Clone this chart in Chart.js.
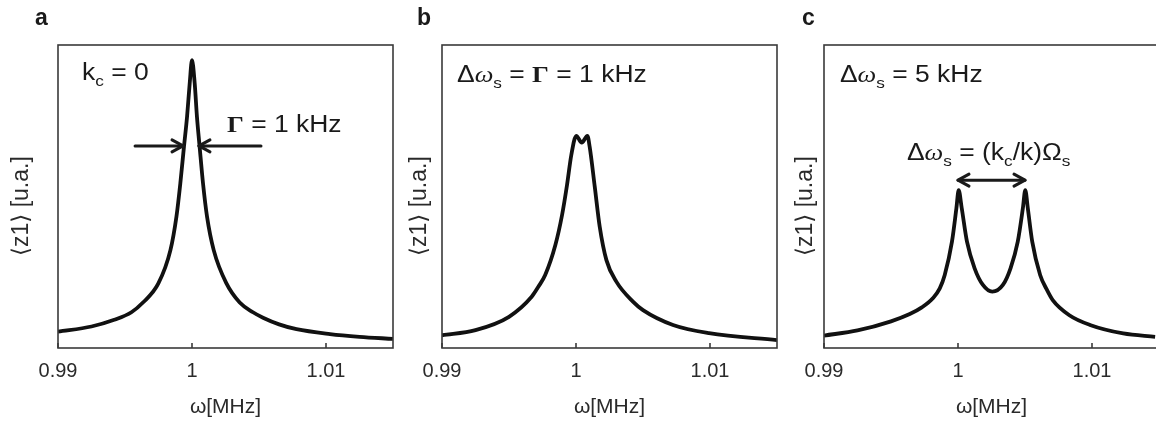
<!DOCTYPE html>
<html>
<head>
<meta charset="utf-8">
<script src="https://cdn.jsdelivr.net/npm/chart.js@4.4.0/dist/chart.umd.min.js"></script>
<style>
  html, body { margin: 0; padding: 0; background: #fff; overflow: hidden; }
  #wrap { position: relative; width: 1156px; height: 421px; overflow: hidden; }
  canvas { position: absolute; top: 0; }
</style>
</head>
<body>
<div id="wrap">
  <canvas id="ca" width="400" height="421" style="left:0"></canvas>
  <canvas id="cb" width="384" height="421" style="left:400px"></canvas>
  <canvas id="cc" width="400" height="421" style="left:784px"></canvas>
</div>
<script>
// x axis ticks (MHz)
const xTicks = [0.99, 1.0, 1.01];
const xTickLabels = ['0.99', '1', '1.01'];

// panel a: single resonance, k_c = 0
const freqA = [0.99, 0.9925, 0.9942, 0.99548, 0.99634, 0.99749, 0.99839, 0.99884, 0.99913, 0.9994, 0.99963, 0.99983, 1.0,
               1.0002, 1.00037, 1.00057, 1.00082, 1.00112, 1.00162, 1.00257, 1.00356, 1.00455, 1.0053, 1.0065,
               1.0078, 1.0103, 1.0125, 1.015];
const zA = [0.054, 0.071, 0.093, 0.118, 0.150, 0.213, 0.323, 0.434, 0.544, 0.664, 0.763, 0.874, 0.950,
            0.874, 0.763, 0.664, 0.544, 0.434, 0.323, 0.213, 0.150, 0.118, 0.100, 0.078,
            0.062, 0.046, 0.037, 0.030];

// panel b: splitting equal to the linewidth
const freqB = [0.99, 0.9925, 0.995, 0.99669, 0.99719, 0.9977, 0.99846, 0.99896, 0.99933, 0.99965, 1.00002, 1.00043,
               1.00085, 1.00102, 1.0014, 1.00177, 1.00227, 1.00301, 1.00425, 1.005, 1.00724, 1.00993, 1.015];
const zB = [0.042, 0.059, 0.103, 0.169, 0.202, 0.241, 0.340, 0.439, 0.538, 0.637, 0.700, 0.678,
            0.700, 0.664, 0.532, 0.400, 0.290, 0.219, 0.153, 0.125, 0.076, 0.049, 0.026];

// panel c: splitting of 5 kHz
const freqC = [0.99, 0.9925, 0.995, 0.9964, 0.9973, 0.99814, 0.99864, 0.99901, 0.99955, 0.99988, 1.00005, 1.00028, 1.00067,
               1.00124, 1.00186, 1.00256, 1.00335, 1.00392, 1.00446, 1.00484, 1.00502, 1.00521, 1.00554,
               1.00613, 1.0066, 1.00707, 1.00831, 1.00985, 1.01233, 1.01471];
const zC = [0.041, 0.058, 0.088, 0.112, 0.134, 0.165, 0.197, 0.241, 0.351, 0.461, 0.521, 0.461, 0.351,
            0.263, 0.208, 0.186, 0.208, 0.263, 0.351, 0.461, 0.521, 0.461, 0.351,
            0.241, 0.195, 0.158, 0.108, 0.076, 0.048, 0.037];

const SANS = '"Liberation Sans", Arial, "DejaVu Sans", sans-serif';
const MAIN = '23px ' + SANS;
const SUB = '15px ' + SANS;
const OMEGA = 'italic 23px "Liberation Serif", serif';
const GAMMA = 'bold 23px "Liberation Serif", serif';
const INK = '#1a1a1a';

function drawRuns(ctx, x, y, runs) {
  ctx.save();
  ctx.translate(x, y);
  ctx.scale(1.15, 1);
  ctx.fillStyle = INK;
  ctx.textBaseline = 'alphabetic';
  let cx = 0;
  runs.forEach(([t, font, dy]) => {
    ctx.font = font;
    ctx.fillText(t, cx, dy || 0);
    cx += ctx.measureText(t).width;
  });
  ctx.restore();
}

function arrowHead(ctx, tx, ty, dir) {
  ctx.beginPath();
  ctx.moveTo(tx - dir * 11, ty - 6);
  ctx.lineTo(tx, ty);
  ctx.lineTo(tx - dir * 11, ty + 6);
  ctx.stroke();
}

const panelDecor = {
  id: 'panelDecor',
  afterDraw(chart, args, opts) {
    const { ctx, chartArea: a, scales: { x, y } } = chart;
    ctx.save();
    ctx.strokeStyle = '#3a3a3a';
    ctx.lineWidth = 1.6;
    ctx.strokeRect(a.left, a.top, a.right - a.left, a.bottom - a.top);
    xTicks.forEach(v => {
      const px = x.getPixelForValue(v);
      ctx.beginPath();
      ctx.moveTo(px, a.bottom);
      ctx.lineTo(px, a.bottom - 5);
      ctx.stroke();
    });

    ctx.fillStyle = INK;
    ctx.font = 'bold 23px ' + SANS;
    ctx.fillText(opts.letter, opts.letterX, 25);

    (opts.notes || []).forEach(n =>
      drawRuns(ctx, x.getPixelForValue(n.x), y.getPixelForValue(n.y), n.runs));

    ctx.strokeStyle = INK;
    ctx.lineWidth = 3;
    ctx.lineCap = 'round';
    ctx.lineJoin = 'round';
    (opts.arrows || []).forEach(ar => {
      const x1 = x.getPixelForValue(ar.from), x2 = x.getPixelForValue(ar.to);
      const py = y.getPixelForValue(ar.y);
      ctx.beginPath();
      ctx.moveTo(x1, py);
      ctx.lineTo(x2, py);
      ctx.stroke();
      const dir = x2 > x1 ? 1 : -1;
      arrowHead(ctx, x2, py, dir);
      if (ar.both) arrowHead(ctx, x1, py, -dir);
    });
    ctx.restore();
  }
};

function makePanel(id, freq, z, yTitlePad, rightPad, decor) {
  const data = freq.map((f, i) => ({ x: f, y: z[i] }));
  const leftWidth = decor.axisWidth;
  return new Chart(document.getElementById(id), {
    type: 'line',
    data: {
      datasets: [{
        data: data,
        borderColor: '#111',
        borderWidth: 3.8,
        pointRadius: 0,
        fill: false,
        cubicInterpolationMode: 'monotone',
      }],
    },
    options: {
      responsive: false,
      animation: false,
      layout: { padding: { top: 45, right: rightPad, left: 0, bottom: 0 } },
      plugins: {
        legend: { display: false },
        tooltip: { enabled: false },
        panelDecor: decor,
      },
      scales: {
        x: {
          type: 'linear',
          min: 0.99,
          max: 1.015,
          afterBuildTicks: s => { s.ticks = xTicks.map(v => ({ value: v })); },
          afterFit: s => { s.height = 73; },
          grid: { display: false, drawTicks: false },
          border: { display: false },
          ticks: {
            color: '#2a2a2a',
            padding: 11,
            font: { family: SANS, size: 20 },
            callback: v => xTickLabels[xTicks.findIndex(t => Math.abs(t - v) < 1e-9)],
          },
          title: {
            display: true,
            text: 'ω[MHz]',
            color: '#2a2a2a',
            font: { family: SANS, size: 21 },
            padding: { top: 0, bottom: 1 },
          },
        },
        y: {
          min: 0,
          max: 1,
          afterFit: s => { s.width = leftWidth; },
          grid: { display: false, drawTicks: false },
          border: { display: false },
          ticks: { display: false },
          title: {
            display: true,
            text: '⟨z1⟩ [u.a.]   ',
            color: '#2a2a2a',
            font: { family: SANS, size: 23 },
            padding: { top: yTitlePad, bottom: 0 },
          },
        },
      },
    },
    plugins: [panelDecor],
  });
}

makePanel('ca', freqA, zA, 8, 7, {
  axisWidth: 58, letter: 'a', letterX: 35,
  notes: [
    { x: 0.99179, y: 0.884, runs: [['k', MAIN], ['c', SUB, 6], [' = 0', MAIN]] },
    { x: 1.00261, y: 0.713, runs: [['Γ', GAMMA], [' = 1 kHz', MAIN]] },
  ],
  arrows: [
    { from: 0.99575, to: 0.99933, y: 0.667 },
    { from: 1.00515, to: 1.00052, y: 0.667 },
  ],
});

makePanel('cb', freqB, zB, 6, 7, {
  axisWidth: 42, letter: 'b', letterX: 17,
  notes: [
    { x: 0.99112, y: 0.878, runs: [['Δ', MAIN], ['ω', OMEGA], ['s', SUB, 6], [' = ', MAIN], ['Γ', GAMMA], [' = 1 kHz', MAIN]] },
  ],
});

makePanel('cc', freqC, zC, 8, 25, {
  axisWidth: 40, letter: 'c', letterX: 18,
  notes: [
    { x: 0.99119, y: 0.878, runs: [['Δ', MAIN], ['ω', OMEGA], ['s', SUB, 6], [' = 5 kHz', MAIN]] },
    { x: 0.99619, y: 0.620, runs: [['Δ', MAIN], ['ω', OMEGA], ['s', SUB, 6], [' = (k', MAIN], ['c', SUB, 6], ['/k)Ω', MAIN], ['s', SUB, 6]] },
  ],
  arrows: [
    { from: 1.0, to: 1.005, y: 0.554, both: true },
  ],
});
</script>
</body>
</html>
